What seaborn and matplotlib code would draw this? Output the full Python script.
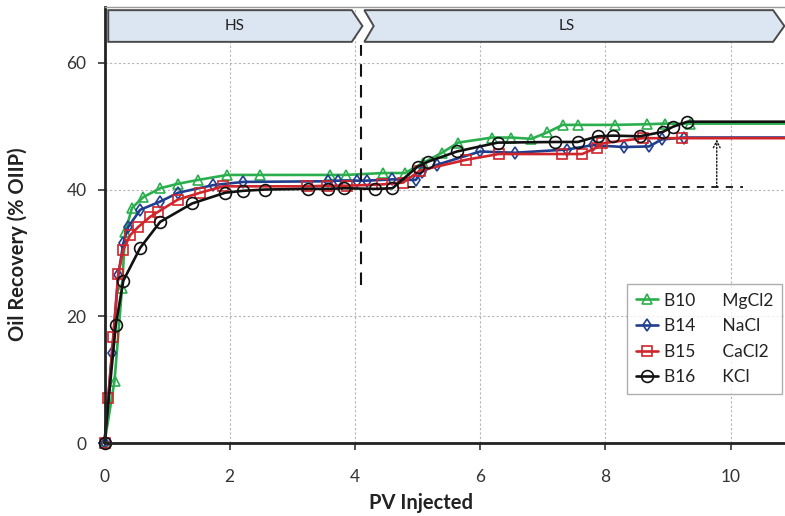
import matplotlib
matplotlib.use("Agg")
import matplotlib.pyplot as plt
import seaborn as sns
import numpy as np
import pandas as pd
from matplotlib.patches import Polygon

# ---------------- data ----------------
X_END = 10.87

b10_x = [0, 0.16, 0.28, 0.33, 0.44, 0.62, 0.89, 1.17, 1.49, 1.96, 2.49, 3.6, 3.85, 4.45, 4.8,
         5.09, 5.39, 5.65, 6.19, 6.5, 6.82, 7.07, 7.32, 7.56, 8.15, 8.66, 8.95, 9.35]
b10_y = [0, 9.8, 24.5, 33.3, 37.1, 38.8, 40.2, 40.9, 41.5, 42.3, 42.3, 42.3, 42.3, 42.6, 42.6,
         44.2, 45.8, 47.4, 48.2, 48.2, 48.0, 49.0, 50.2, 50.2, 50.2, 50.3, 50.4, 50.4]

b14_x = [0, 0.12, 0.22, 0.3, 0.38, 0.57, 0.89, 1.18, 1.74, 2.22, 3.57, 3.73, 4.03, 4.19, 4.6,
         4.97, 5.07, 5.31, 6.0, 6.55, 7.38, 7.8, 8.3, 8.7, 8.9, 9.25]
b14_y = [0, 14.2, 26.5, 31.5, 34.1, 36.8, 38.1, 39.5, 40.7, 41.2, 41.3, 41.4, 41.4, 41.4, 41.6,
         41.5, 42.8, 43.9, 46.0, 45.8, 46.3, 47.0, 46.7, 46.8, 47.9, 48.2]

b15_x = [0, 0.06, 0.14, 0.22, 0.3, 0.41, 0.54, 0.73, 0.86, 1.17, 1.53, 1.9, 3.24, 3.56, 3.87,
         4.43, 4.77, 5.04, 5.78, 6.3, 7.3, 7.63, 7.86, 7.95, 8.6, 9.23]
b15_y = [0, 7.1, 16.7, 26.7, 30.5, 32.8, 34.1, 35.7, 36.5, 38.4, 39.5, 40.5, 40.5, 40.6, 40.6,
         40.8, 41.1, 43.0, 44.7, 45.6, 45.6, 45.6, 46.6, 47.3, 48.1, 48.1]

b16_x = [0, 0.18, 0.3, 0.57, 0.89, 1.4, 1.93, 2.22, 2.57, 3.25, 3.57, 3.83, 4.32, 4.6, 5.0,
         5.17, 5.63, 6.28, 7.2, 7.56, 7.88, 8.12, 8.55, 8.92, 9.08, 9.31]
b16_y = [0, 18.6, 25.6, 30.8, 34.9, 37.8, 39.5, 39.8, 40.0, 40.1, 40.1, 40.2, 40.1, 40.2, 43.6,
         44.4, 46.0, 47.4, 47.5, 47.5, 48.4, 48.5, 48.4, 49.1, 49.9, 50.7]

series_names = ["B10", "B14", "B15", "B16"]
salts = ["MgCl2", "NaCl", "CaCl2", "KCl"]
x_ticks = [0, 2, 4, 6, 8, 10]
y_ticks = [0, 20, 40, 60]
stage_labels = ["HS", "LS"]

# ---------------- style ----------------
sns.set_theme(style="white")
plt.rcParams["font.family"] = ["Lato", "DejaVu Sans"]

fig = plt.figure(figsize=(7.85, 5.16), dpi=100)
ax = fig.add_axes([104.5 / 785, 73 / 516, (785 - 104.5) / 785, 436 / 516])

colors = ["#2BAE4E", "#203E8E", "#D0252A", "#111111"]
markers = ["^", "d", "s", "o"]
msizes = [7.5, 6.5, 7.5, 8.5]
data = [(b10_x, b10_y), (b14_x, b14_y), (b15_x, b15_y), (b16_x, b16_y)]

for (xs, ys), name, salt, c, m, ms in zip(data, series_names, salts, colors, markers, msizes):
    xe = list(xs) + [X_END]
    ye = list(ys) + [ys[-1]]
    df = pd.DataFrame({"x": xe, "y": ye})
    sns.lineplot(data=df, x="x", y="y", ax=ax, estimator=None, sort=False,
                 color=c, lw=1.9, marker=m, markersize=ms, markerfacecolor="none",
                 markeredgecolor=c, markeredgewidth=1.2,
                 markevery=list(range(len(xs))), clip_on=False,
                 label=f"{name}      {salt}")

ax.set_xlim(0, X_END)
ax.set_ylim(0, 68.8)
ax.set_xticks(x_ticks)
ax.set_yticks(y_ticks)
ax.set_xticklabels([str(t) for t in x_ticks])
ax.set_yticklabels([str(t) for t in y_ticks])
ax.tick_params(axis="both", which="major", direction="out", length=5, width=1.2,
               color="#333333", labelsize=12.5, labelcolor="#333333",
               bottom=True, left=True)
ax.tick_params(axis="x", pad=14)
ax.tick_params(axis="y", pad=8)

ax.grid(True, which="major", linestyle=(0, (2, 2)), color="#b5b5b5", lw=0.8)
ax.set_axisbelow(True)

for s in ["left", "bottom"]:
    ax.spines[s].set_color("#222222")
    ax.spines[s].set_linewidth(2.0)
ax.spines["right"].set_visible(False)
ax.spines["top"].set_color("#9a9a9a")
ax.spines["top"].set_linewidth(1.0)

ax.set_xlabel("PV Injected", fontsize=14.5, fontweight="bold", color="#222222")
ax.set_ylabel("Oil Recovery (% OIIP)", fontsize=14.5, fontweight="bold", color="#222222")
ax.xaxis.set_label_coords(0.465, -0.115)
ax.yaxis.set_label_coords(-0.112, 0.455)

# annotations
ax.plot([4.1, 4.1], [25, 62.8], ls=(0, (6, 4)), color="#111111", lw=1.5, zorder=5)
ax.plot([4.85, 10.2], [40.4, 40.4], ls=(0, (4, 4)), color="#111111", lw=1.3, zorder=5)
ax.annotate("", xy=(9.78, 47.9), xytext=(9.78, 40.4),
            arrowprops=dict(arrowstyle="->", ls=(0, (1, 1.5)), color="#111111", lw=1.0,
                            shrinkA=0, shrinkB=0), zorder=5)

# banner
y0, y1 = 63.3, 68.3
ym = (y0 + y1) / 2
hs = Polygon([(0.06, y0), (3.95, y0), (4.12, ym), (3.95, y1), (0.06, y1)], closed=True,
             facecolor="#DCE6F2", edgecolor="#4a4a4a", lw=1.4, zorder=6, clip_on=False)
ls_ = Polygon([(4.15, y0), (10.68, y0), (10.86, ym), (10.68, y1), (4.15, y1), (4.3, ym)],
              closed=True, facecolor="#DCE6F2", edgecolor="#4a4a4a", lw=1.4, zorder=6,
              clip_on=False)
ax.add_patch(hs)
ax.add_patch(ls_)
ax.text(2.08, ym, stage_labels[0], ha="center", va="center", fontsize=11, color="#222222", zorder=7)
ax.text(7.39, ym, stage_labels[1], ha="center", va="center", fontsize=11, color="#222222", zorder=7)

leg = ax.legend(loc="upper left", bbox_to_anchor=(0.768, 0.365), frameon=True,
                fontsize=12.5, handlelength=1.3, handletextpad=0.3, labelspacing=0.55,
                borderpad=0.5, fancybox=False, edgecolor="#9a9a9a", borderaxespad=0)
leg.get_frame().set_linewidth(1.0)
for t in leg.get_texts():
    t.set_color("#222222")

fig.savefig("out.png", dpi=100)
